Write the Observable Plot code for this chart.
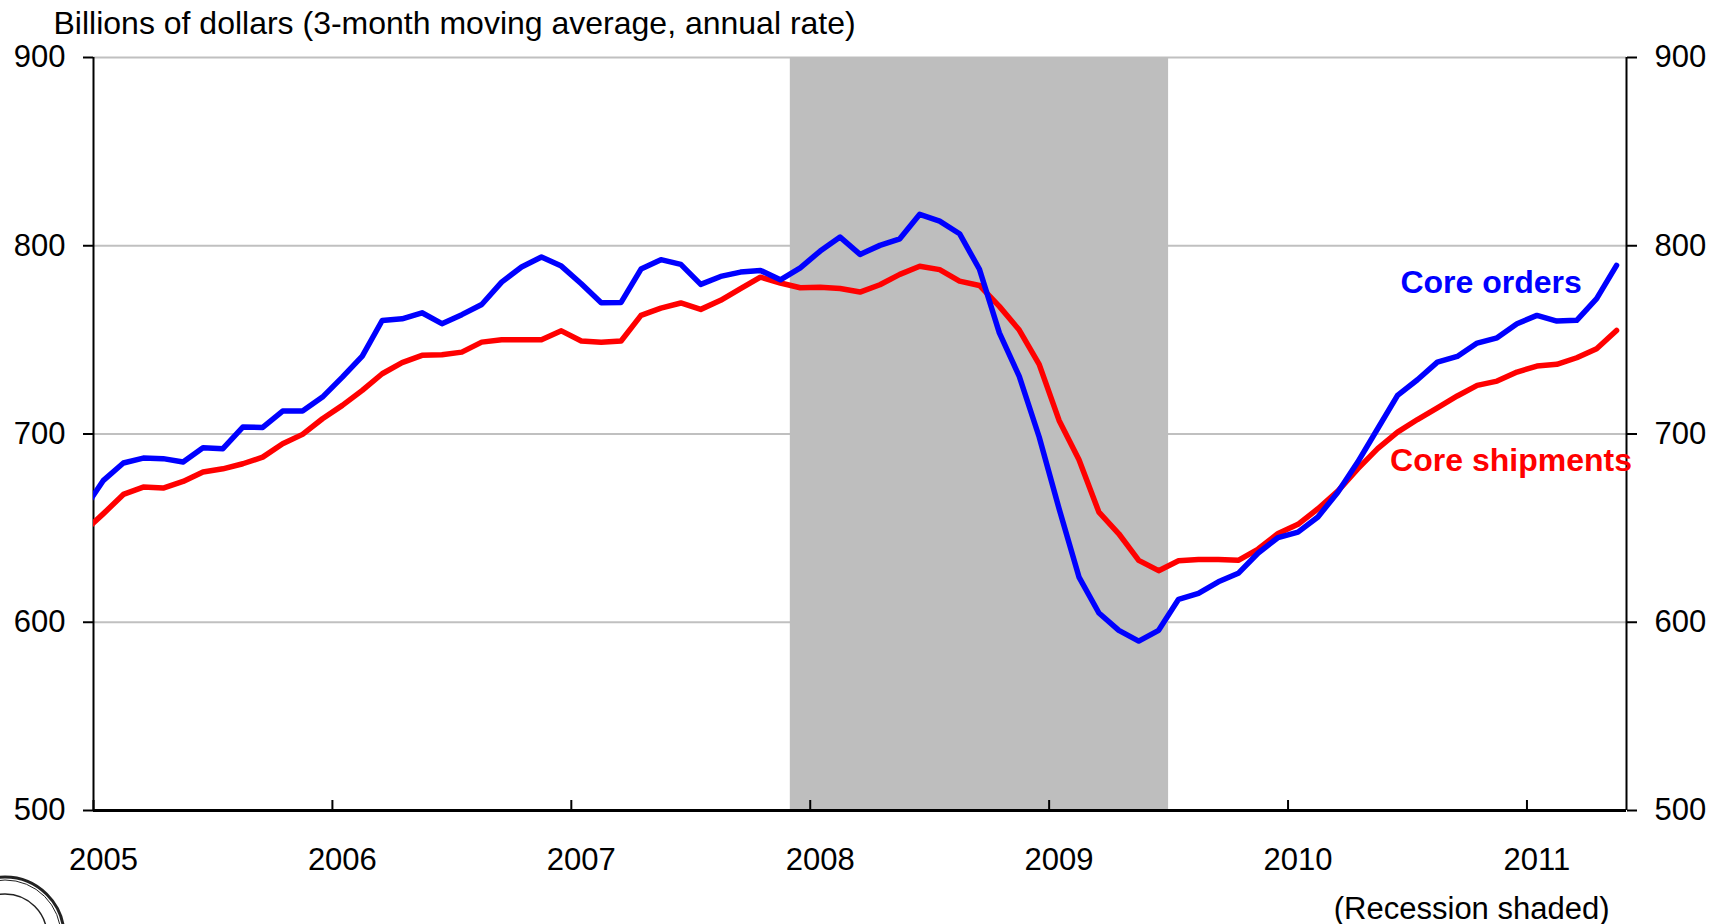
<!DOCTYPE html>
<html>
<head>
<meta charset="utf-8">
<script src="https://cdn.jsdelivr.net/npm/d3@7"></script>
<script src="https://cdn.jsdelivr.net/npm/@observablehq/plot@0.6"></script>
<style>
  html, body { margin: 0; padding: 0; background: #fff; }
  #chart svg { display: block; }
</style>
</head>
<body>
<div id="chart"></div>
<script>
// Monthly data, Dec 2004 .. May 2011 (Dec 2004 is only partly visible, clipped at the axis)
const firstMonth = "2004-12";
const coreOrders = [
  659.6,
  675.4, 684.6, 687.2, 686.9, 685.1, 692.7, 692.2, 703.7, 703.5, 712.2, 712.2, 719.6,
  730.2, 741.4, 760.3, 761.2, 764.4, 758.6, 763.4, 768.8, 780.7, 788.7, 794.0, 789.2,
  779.8, 769.7, 769.9, 787.6, 792.6, 790.1, 779.5, 783.7, 786.0, 786.9, 781.9, 788.3,
  797.2, 804.6, 795.4, 800.2, 803.7, 816.7, 813.1, 806.4, 787.5, 753.7, 730.6, 698.4,
  660.3, 624.0, 604.9, 595.7, 590.0, 595.7, 612.2, 615.3, 621.5, 626.0, 636.8, 645.0,
  647.9, 655.9, 669.1, 685.1, 702.8, 720.5, 728.8, 738.2, 741.2, 748.3, 751.1, 758.6,
  763.0, 760.0, 760.4, 771.9, 789.6
];
const coreShipments = [
  647.9,
  657.7, 667.9, 671.8, 671.3, 674.8, 679.8, 681.5, 684.2, 687.7, 694.8, 699.8, 708.1,
  715.2, 723.2, 732.0, 737.9, 741.8, 742.1, 743.5, 748.8, 750.1, 750.1, 750.1, 754.8,
  749.4, 748.8, 749.4, 763.0, 766.9, 769.6, 766.2, 771.0, 777.2, 783.3, 780.2, 777.7,
  777.9, 777.3, 775.4, 779.3, 784.8, 789.1, 787.3, 781.2, 778.9, 767.8, 755.2, 737.0,
  707.2, 686.3, 658.5, 647.0, 632.9, 627.4, 632.7, 633.3, 633.3, 632.9, 638.9, 647.2,
  652.0, 660.3, 669.7, 681.5, 692.2, 701.0, 707.7, 713.9, 720.2, 725.8, 728.1, 732.9,
  736.1, 737.0, 740.5, 745.3, 755.0
];
const yearLabels = ["2005", "2006", "2007", "2008", "2009", "2010", "2011"];
const yTicks = [500, 600, 700, 800, 900];
const recession = [{start: "2007-12", end: "2009-07"}];
const seriesLabels = [
  {text: "Core orders", month: "2010-11", value: 780.5, color: "#0000ff"},
  {text: "Core shipments", month: "2010-12", value: 686, color: "#ff0000"}
];
const titleText = "Billions of dollars (3-month moving average, annual rate)";
const noteText = "(Recession shaded)";

// helpers: month index relative to Jan 2005 (category centres at +0.5)
const base = new Date(2005, 0, 1);
const parseMonth = d3.timeParse("%Y-%m");
const monthIndex = s => d3.timeMonth.count(base, parseMonth(s));
const start = monthIndex(firstMonth);
const table = coreOrders.map((v, i) => ({
  x: start + i + 0.5,
  orders: v,
  shipments: coreShipments[i]
}));
const nMonths = start + coreOrders.length; // axis end (end of last month)
const yearTicks = yearLabels.map((y, i) => i * 12);
const yearLabelPos = yearLabels.map((y, i) => i * 12 + 0.5);
const rec = recession.map(r => ({x1: monthIndex(r.start), x2: monthIndex(r.end)}));
const labels = seriesLabels.map(d => ({...d, x: monthIndex(d.month) + 0.5}));

const font = "'Liberation Sans', Arial, Helvetica, sans-serif";
const chart = Plot.plot({
  width: 1721,
  height: 924,
  marginLeft: 93,
  marginRight: 95,
  marginTop: 57,
  marginBottom: 114,
  x: {domain: [0, nMonths]},
  y: {domain: [500, 900]},
  style: {fontFamily: font, fontSize: "31px", color: "#000", background: "#fff", overflow: "visible"},
  marks: [
    Plot.ruleY(yTicks.slice(1), {stroke: "#c0c0c0", strokeWidth: 2}),
    Plot.rect(rec, {x1: "x1", x2: "x2", fill: "#bebebe"}),
    Plot.axisY({anchor: "left", ticks: yTicks, tickSize: 10, tickPadding: 18, label: null, strokeWidth: 2, fontSize: 31}),
    Plot.axisY({anchor: "right", ticks: yTicks, tickSize: 10, tickPadding: 18, label: null, strokeWidth: 2, fontSize: 31}),
    Plot.axisX({ticks: yearTicks, tickSize: -10, tickFormat: () => "", label: null, strokeWidth: 2}),
    Plot.axisX({ticks: yearLabelPos, tickSize: 0, tickPadding: 37, tickFormat: (d, i) => yearLabels[i], label: null, fontSize: 31}),
    Plot.ruleX([0, nMonths], {stroke: "#000", strokeWidth: 2}),
    Plot.line(table, {x: "x", y: "shipments", stroke: "#ff0000", strokeWidth: 5.5, clip: true}),
    Plot.line(table, {x: "x", y: "orders", stroke: "#0000ff", strokeWidth: 5.5, clip: true}),
    Plot.ruleY([500], {stroke: "#000", strokeWidth: 3}),
    Plot.text(labels, {x: "x", y: "value", text: "text", fill: "color", fontWeight: "bold", fontSize: 32, dx: -6}),
    Plot.text([titleText], {frameAnchor: "top-left", dx: -40, dy: -24, textAnchor: "start", lineAnchor: "bottom", fontSize: 32}),
    Plot.text([noteText], {frameAnchor: "bottom-right", dx: -17, dy: 108, textAnchor: "end", lineAnchor: "bottom", fontSize: 31})
  ]
});
// partial seal in the bottom-left corner
const seal = d3.select(chart).append("g").attr("fill", "none").attr("stroke", "#222");
seal.append("circle").attr("cx", 5).attr("cy", 936).attr("r", 59).attr("stroke-width", 3);
seal.append("circle").attr("cx", 5).attr("cy", 936).attr("r", 56).attr("stroke-width", 1);
seal.append("circle").attr("cx", 5).attr("cy", 936).attr("r", 42).attr("stroke-width", 1.5);
document.getElementById("chart").appendChild(chart);
</script>
</body>
</html>
